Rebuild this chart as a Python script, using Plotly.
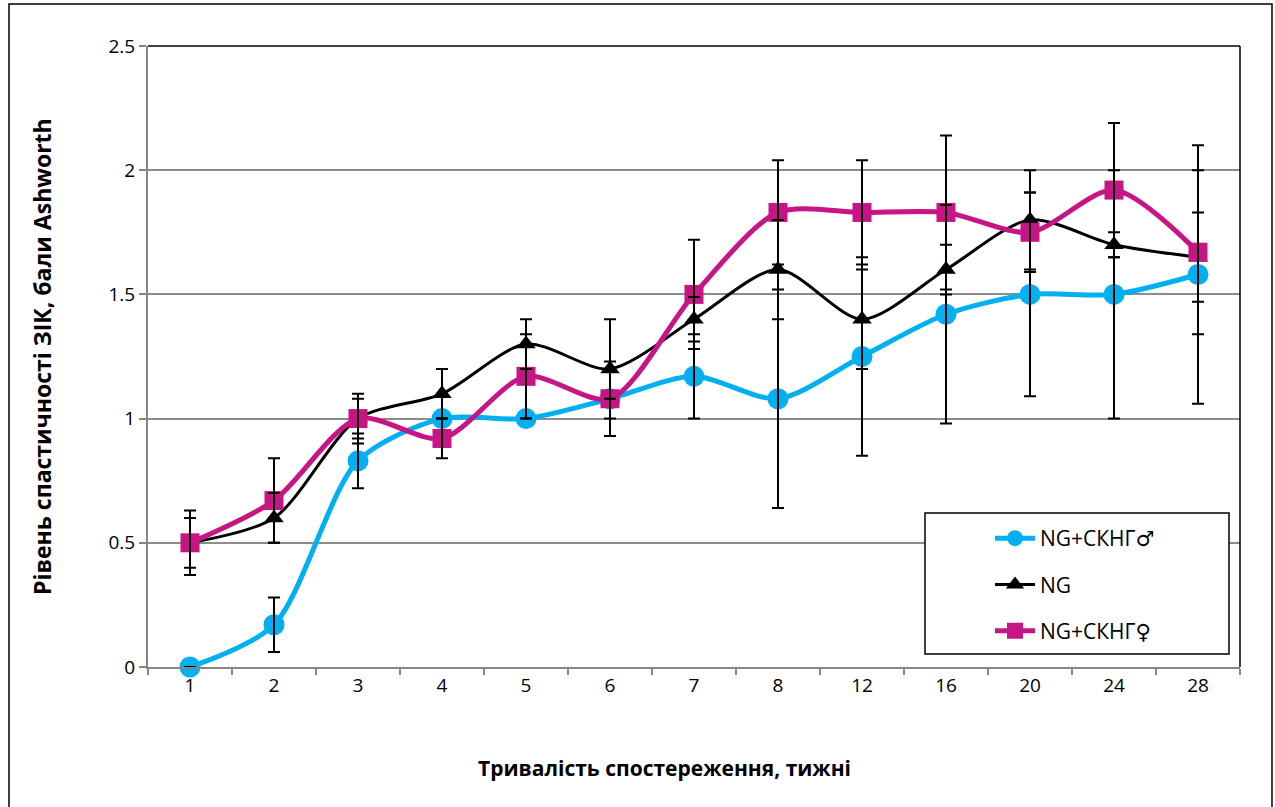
import plotly.graph_objects as go

# Observation weeks (categorical x axis)
weeks = ["1", "2", "3", "4", "5", "6", "7", "8", "12", "16", "20", "24", "28"]

# Spasticity level (Ashworth points), mean values per group
male_vals = [0, 0.17, 0.83, 1.0, 1.0, 1.08, 1.17, 1.08, 1.25, 1.42, 1.5, 1.5, 1.58]
ng_vals = [0.5, 0.6, 1.0, 1.1, 1.3, 1.2, 1.4, 1.6, 1.4, 1.6, 1.8, 1.7, 1.65]
female_vals = [0.5, 0.67, 1.0, 0.92, 1.17, 1.08, 1.5, 1.83, 1.83, 1.83, 1.75, 1.92, 1.67]

# Symmetric error values
male_err = [0, 0.11, 0.11, 0, 0, 0, 0.17, 0.44, 0.40, 0.44, 0.41, 0.5, 0.52]
ng_err = [0.1, 0.1, 0.1, 0.1, 0.1, 0.2, 0.09, 0.2, 0.2, 0.1, 0.2, 0.05, 0.18]
female_err = [0.13, 0.17, 0.08, 0.08, 0.17, 0.15, 0.22, 0.21, 0.21, 0.31, 0.16, 0.27, 0.33]

SYM = "<span style='font-family:DejaVu Sans'>{}</span>"
names = ["NG+СКНГ" + SYM.format("♂"), "NG", "NG+СКНГ" + SYM.format("♀")]
y_ticks = [0, 0.5, 1, 1.5, 2, 2.5]
y_tick_text = ["0", "0.5", "1", "1.5", "2", "2.5"]

BLUE = "#00B0F0"
MAGENTA = "#C71585"
FONT = "Open Sans"

W, H = 1275, 807
ML, MR, MT, MB = 148, 35, 46, 140
PW, PH = W - ML - MR, H - MT - MB


def px_x(p):
    return (p - ML) / PW


def px_y(p):
    return (H - MB - p) / PH


fig = go.Figure()

series = [
    (names[0], male_vals, BLUE, 5, dict(symbol="circle", size=21)),
    (names[1], ng_vals, "black", 3, dict(symbol="triangle-up", size=17)),
    (names[2], female_vals, MAGENTA, 5, dict(symbol="square", size=19)),
]
for i, (nm, vals, col, lw, mk) in enumerate(series):
    fig.add_trace(go.Scatter(
        x=weeks, y=vals, name=nm, mode="lines+markers",
        line=dict(color=col, width=lw, shape="spline", smoothing=0.8),
        marker=dict(color=col, **mk),
        legendgroup=f"g{i}", cliponaxis=False,
    ))

# Error bars drawn on top of all series
for vals, err in [(male_vals, male_err), (ng_vals, ng_err), (female_vals, female_err)]:
    fig.add_trace(go.Scatter(
        x=weeks, y=vals, mode="markers", showlegend=False, hoverinfo="skip",
        marker=dict(size=1, opacity=0), cliponaxis=False,
        error_y=dict(type="data", array=err, visible=True, color="black",
                     thickness=2, width=6),
    ))

shapes = [
    # outer chart frame
    dict(type="rect", xref="paper", yref="paper",
         x0=px_x(9), x1=px_x(1272), y0=px_y(812), y1=px_y(4),
         line=dict(color="black", width=1.5), layer="below"),
    # plot area top and right border
    dict(type="line", xref="paper", yref="paper", x0=0, x1=1, y0=1, y1=1,
         line=dict(color="black", width=1.5)),
    dict(type="line", xref="paper", yref="paper", x0=1, x1=1, y0=0, y1=1,
         line=dict(color="black", width=1.5)),
    # legend box
    dict(type="rect", xref="paper", yref="paper",
         x0=px_x(925), x1=px_x(1229), y0=px_y(654), y1=px_y(513),
         line=dict(color="black", width=1.5), fillcolor="white", layer="above"),
]

annotations = [
    dict(text="<b>Тривалість спостереження, тижні</b>", xref="paper", yref="paper",
         x=px_x(664), y=px_y(768), showarrow=False,
         font=dict(family=FONT, size=21, color="black"), xanchor="center", yanchor="middle"),
    dict(text="<b>Рівень спастичності ЗІК, бали Ashworth</b>", xref="paper", yref="paper",
         x=px_x(42), y=px_y(357), showarrow=False, textangle=-90,
         font=dict(family=FONT, size=23, color="black"), xanchor="center", yanchor="middle"),
]

fig.update_layout(
    width=W, height=H,
    margin=dict(l=ML, r=MR, t=MT, b=MB),
    paper_bgcolor="white", plot_bgcolor="white",
    font=dict(family=FONT, size=19, color="black"),
    shapes=shapes, annotations=annotations,
    legend=dict(
        x=px_x(990), y=px_y(518), xanchor="left", yanchor="top",
        bgcolor="rgba(0,0,0,0)", borderwidth=0,
        font=dict(family=FONT, size=21, color="black"),
        tracegroupgap=16, itemwidth=40,
    ),
    showlegend=True,
)

fig.update_xaxes(
    type="category", categoryorder="array", categoryarray=weeks,
    showgrid=False, showline=True, linecolor="#868686", linewidth=2,
    ticks="outside", tickson="boundaries", ticklen=6, tickcolor="#868686", tickwidth=1.5,
    tickfont=dict(family=FONT, size=19, color="black"),
    zeroline=False, range=[-0.5, len(weeks) - 0.5],
)
fig.update_yaxes(
    range=[0, 2.5], tickvals=y_ticks, ticktext=y_tick_text,
    showgrid=True, gridcolor="#8c8c8c", gridwidth=1.5,
    showline=True, linecolor="#868686", linewidth=2,
    ticks="outside", ticklen=7, tickcolor="#868686", tickwidth=1.5,
    tickfont=dict(family=FONT, size=19, color="black"),
    zeroline=False,
)

fig.write_html("out.html")
